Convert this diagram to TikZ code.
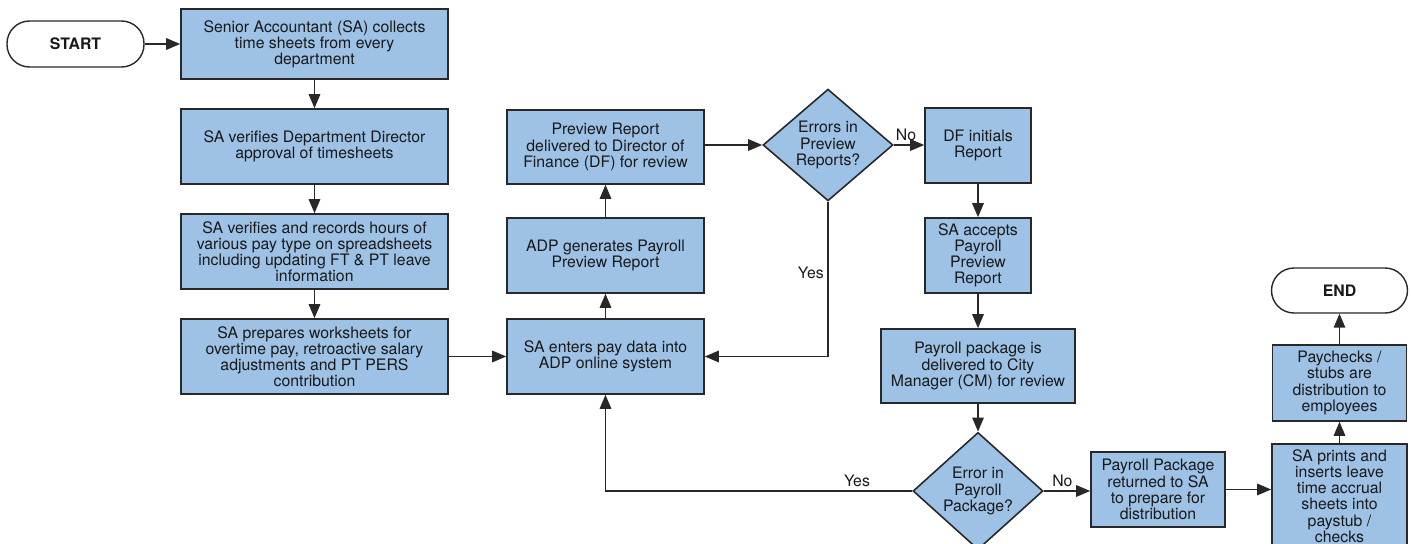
\documentclass[tikz,border=0pt]{standalone}
\usepackage{fontspec}
\setmainfont{TeX Gyre Heros}
\usetikzlibrary{shapes.geometric,arrows.meta}

\definecolor{boxblue}{RGB}{157,194,229}
\definecolor{edgegray}{RGB}{40,40,40}

\begin{document}
\begin{tikzpicture}[
    every node/.style={font=\fontsize{9}{9.2}\selectfont, text=black!90},
    stepbox/.style={draw=edgegray, line width=0.9pt, fill=boxblue, align=center, inner sep=1pt},
    terminal/.style={draw=edgegray, line width=0.8pt, rounded corners=4.5mm, align=center,
        minimum width=2.74cm, minimum height=0.92cm, font=\fontsize{9}{9.2}\selectfont\bfseries},
    decision/.style={diamond, draw=edgegray, line width=0.9pt, fill=boxblue, align=center,
        inner sep=0pt, minimum width=2.6cm, minimum height=2.15cm},
    flow/.style={draw=edgegray, line width=0.85pt, -{Triangle[length=2.8mm,width=2.3mm]}},
    answer/.style={font=\fontsize{9}{9.2}\selectfont, inner sep=2pt}
]

\useasboundingbox (0,0) rectangle (28.22,-10.88);

% Column 1: collecting and checking the time sheets
\node[terminal] (start) at (1.51,-0.88) {START};
\node[stepbox, minimum width=5.34cm, minimum height=1.40cm] (collect) at (6.29,-0.88)
    {Senior Accountant (SA) collects\\time sheets from every\\department};
\node[stepbox, minimum width=5.34cm, minimum height=1.50cm] (approve) at (6.29,-2.93)
    {SA verifies Department Director\\approval of timesheets};
\node[stepbox, minimum width=5.34cm, minimum height=1.50cm] (record) at (6.29,-5.03)
    {SA verifies and records hours of\\various pay type on spreadsheets\\including updating FT \& PT leave\\information};
\node[stepbox, minimum width=5.34cm, minimum height=1.50cm] (prepare) at (6.29,-7.13)
    {SA prepares worksheets for\\overtime pay, retroactive salary\\adjustments and PT PERS\\contribution};

% Column 2: ADP
\node[stepbox, minimum width=3.94cm, minimum height=1.50cm] (enter) at (12.11,-7.13)
    {SA enters pay data into\\ADP online system};
\node[stepbox, minimum width=3.94cm, minimum height=1.50cm] (generate) at (12.11,-5.11)
    {ADP generates Payroll\\Preview Report};
\node[stepbox, minimum width=3.94cm, minimum height=1.48cm] (preview) at (12.11,-2.94)
    {Preview Report\\delivered to Director of\\Finance (DF) for review};
\node[decision] (errprev) at (16.56,-2.90) {Errors in\\Preview\\Reports?};

% Column 3: review by DF and CM
\node[stepbox, minimum width=2.12cm, minimum height=1.50cm] (initials) at (19.56,-2.91)
    {DF initials\\Report};
\node[stepbox, minimum width=2.12cm, minimum height=1.50cm] (accepts) at (19.56,-5.11)
    {SA accepts\\Payroll\\Preview\\Report};
\node[stepbox, minimum width=3.88cm, minimum height=1.48cm] (package) at (19.56,-7.32)
    {Payroll package is\\delivered to City\\Manager (CM) for review};
\node[decision] (errpack) at (19.56,-9.82) {Error in\\Payroll\\Package?};

% Column 4: distribution
\node[stepbox, minimum width=2.68cm, minimum height=1.50cm] (returned) at (23.16,-9.79)
    {Payroll Package\\returned to SA\\to prepare for\\distribution};
\node[stepbox, minimum width=2.70cm, minimum height=2.08cm] (prints) at (26.79,-9.92)
    {SA prints and\\inserts leave\\time accrual\\sheets into\\paystub /\\checks};
\node[stepbox, minimum width=2.68cm, minimum height=1.52cm] (paychecks) at (26.79,-7.66)
    {Paychecks /\\stubs are\\distribution to\\employees};
\node[terminal, minimum width=2.72cm, minimum height=0.90cm] (end) at (26.79,-5.81) {END};

% Connectors
\draw[flow] (start) -- (collect);
\draw[flow] (collect) -- (approve);
\draw[flow] (approve) -- (record);
\draw[flow] (record) -- (prepare);
\draw[flow] (prepare) -- (enter);
\draw[flow] (enter) -- (generate);
\draw[flow] (generate) -- (preview);
\draw[flow] (preview.east |- errprev) -- (errprev);
\draw[flow] (errprev) -- node[answer, above, pos=0.4] {No} (initials.west |- errprev);
\draw[flow] (errprev.south) |- node[answer, left, pos=0.23] {Yes} (enter.east);
\draw[flow] (initials) -- (accepts);
\draw[flow] (accepts) -- (package);
\draw[flow] (package) -- (errpack);
\draw[flow] (errpack.west) -| node[answer, above, pos=0.09] {Yes} (enter.south);
\draw[flow] (errpack) -- node[answer, above, pos=0.4] {No} (returned.west |- errpack);
\draw[flow] (returned.east) -- (returned.east -| prints.west);
\draw[flow] (prints) -- (paychecks);
\draw[flow] (paychecks) -- (end);

\end{tikzpicture}
\end{document}
